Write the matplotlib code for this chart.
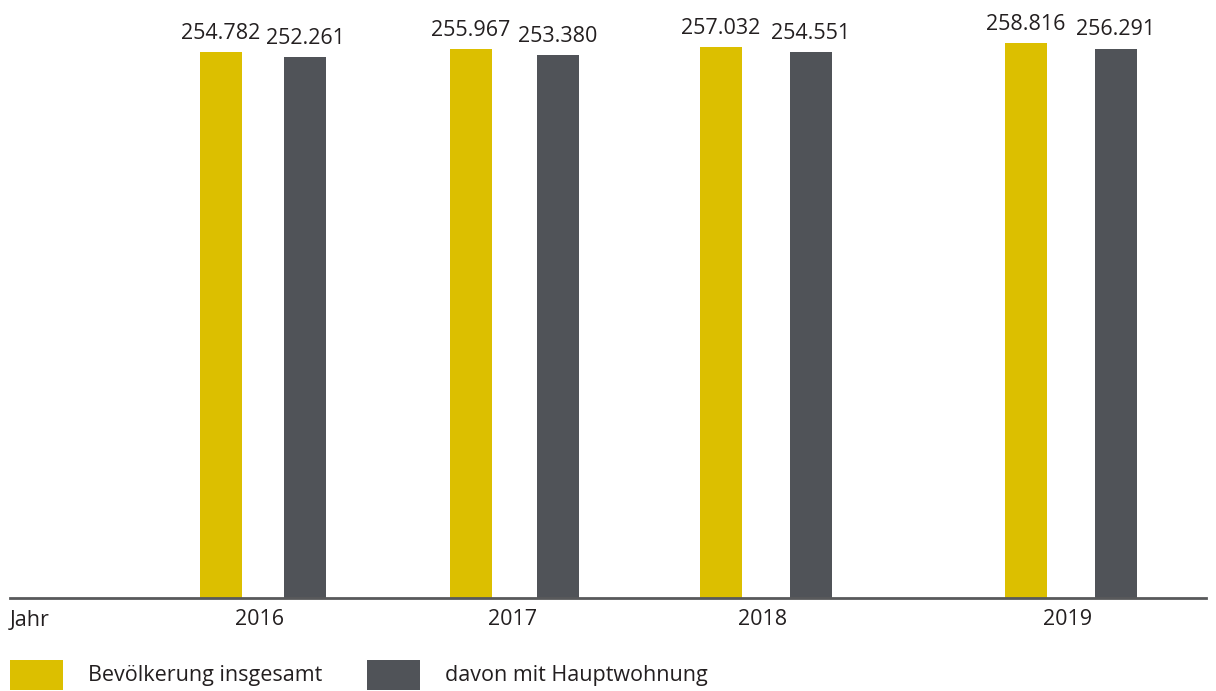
import matplotlib.pyplot as plt
from matplotlib.patches import Rectangle

plt.rcParams['font.family'] = ['Open Sans', 'DejaVu Sans']

years = ['2016', '2017', '2018', '2019']
insgesamt = [254782, 255967, 257032, 258816]
hauptwohnung = [252261, 253380, 254551, 256291]
series_names = ['Bevölkerung insgesamt', 'davon mit Hauptwohnung']

col_yellow = '#dcbf00'
col_grey = '#505358'
col_text = '#231f20'

W, H = 1216, 691
fig = plt.figure(figsize=(W / 100, H / 100), dpi=100)
ax = fig.add_axes([10 / W, 93 / H, 1196 / W, (598 - 20) / H])

# layout in pixel-like x units (the original spacing is irregular)
x_yellow = [221, 471, 721, 1026]
x_grey = [305, 558, 811, 1116]
x_year = [260, 513, 763, 1068]
bw = 42

b1 = ax.bar(x_yellow, insgesamt, width=bw, color=col_yellow)
b2 = ax.bar(x_grey, hauptwohnung, width=bw, color=col_grey)

fmt = lambda v: f'{v:,.0f}'.replace(',', '.')
ax.bar_label(b1, labels=[fmt(v) for v in insgesamt], padding=6, fontsize=15.5, color=col_text)
ax.bar_label(b2, labels=[fmt(v) for v in hauptwohnung], padding=6, fontsize=15.5, color=col_text)

ax.set_xlim(10, 1206)
mean_top = sum(insgesamt) / len(insgesamt)
ax.set_ylim(0, mean_top * 578 / 550)

for s in ['top', 'right', 'left']:
    ax.spines[s].set_visible(False)
ax.spines['bottom'].set_color('#58595b')
ax.spines['bottom'].set_linewidth(2)
ax.set_yticks([])
ax.set_xticks(x_year)
ax.set_xticklabels(years, fontsize=15.5, color=col_text)
ax.tick_params(axis='x', length=0, pad=8)

fig.text(10 / W, 1 - 620 / H, 'Jahr', fontsize=15.5, color=col_text, ha='left', va='center')

# legend
leg_items = [(10, col_yellow, 88, series_names[0]), (367, col_grey, 445, series_names[1])]
for x0, c, tx, name in leg_items:
    fig.add_artist(Rectangle((x0 / W, 1 - 690 / H), 53 / W, 30 / H,
                             transform=fig.transFigure, color=c, lw=0))
    fig.text(tx / W, 1 - 676 / H, name, fontsize=15.5, color=col_text, ha='left', va='center')

fig.savefig('out.png', dpi=100)
